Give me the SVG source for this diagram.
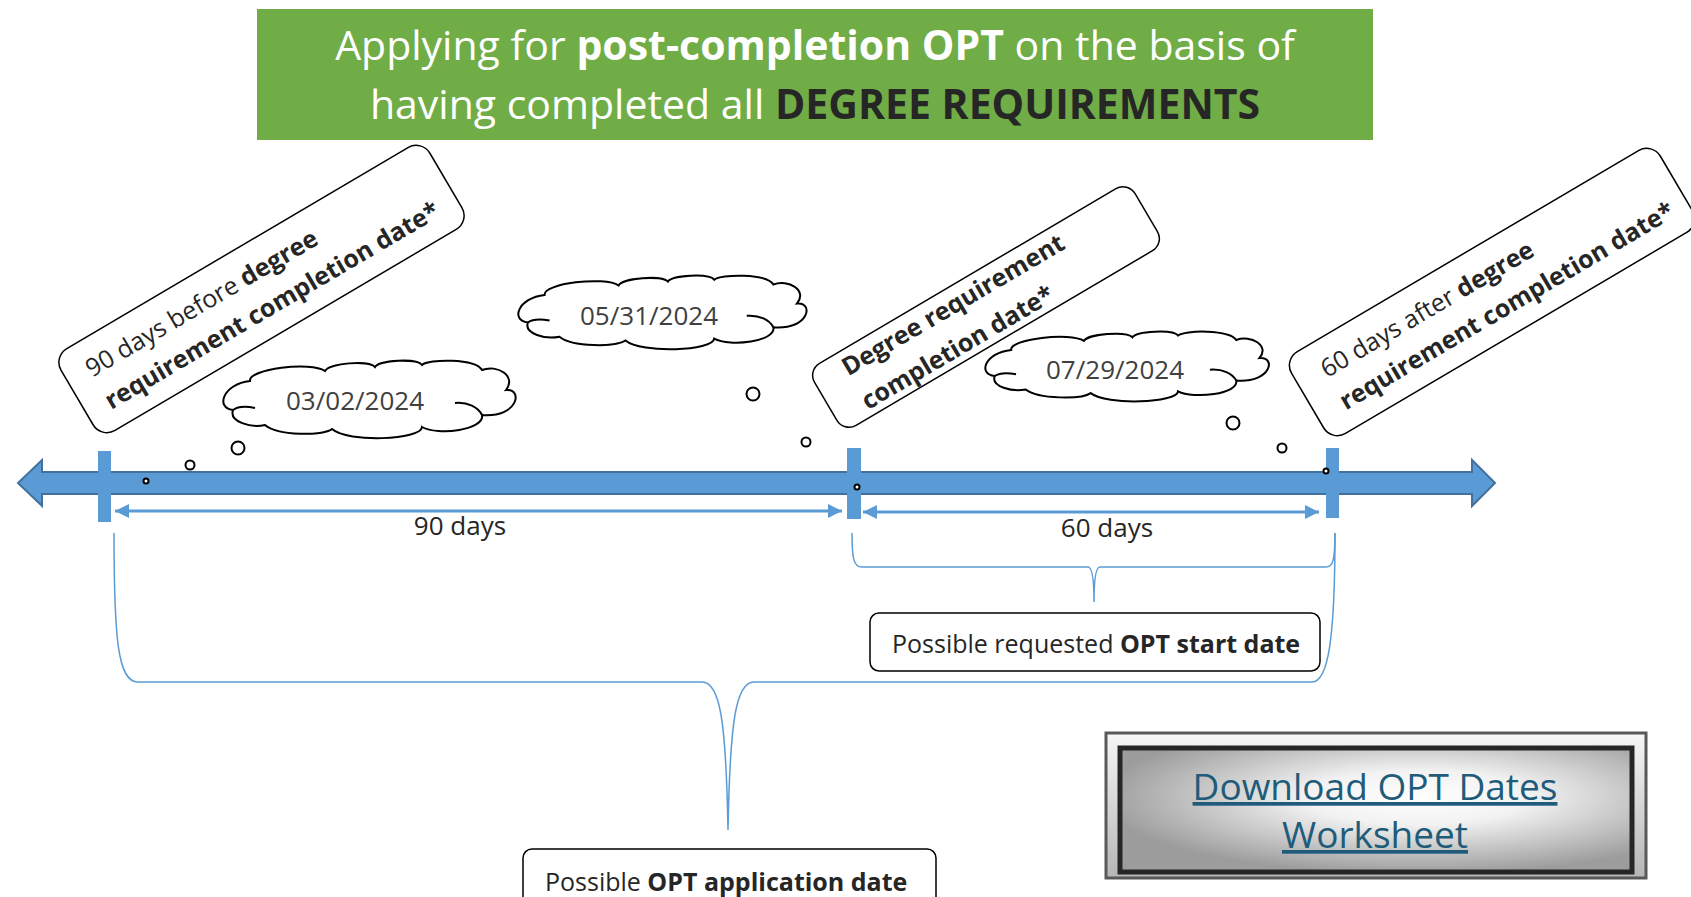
<svg xmlns="http://www.w3.org/2000/svg" width="1691" height="897" viewBox="0 0 1691 897">
<style>
text{font-family:'Open Sans','Liberation Sans',sans-serif;}
.b{font-weight:bold;}
.title{fill:#FFFFFF;font-size:41px;}
.dark{fill:#262626;}
.callout{fill:#FFFFFF;stroke:#000000;stroke-width:1.5;}
.ct{font-size:25px;fill:#262626;}
.cloud{fill:#FFFFFF;stroke:#000000;stroke-width:2;vector-effect:non-scaling-stroke;}
.cloudin{fill:none;stroke:#000000;stroke-width:2;vector-effect:non-scaling-stroke;}
.date{font-size:26px;fill:#404040;text-anchor:middle;}
.bub{fill:#FFFFFF;stroke:#000000;stroke-width:2;}
.tick{fill:#5B9BD5;}
.dim{stroke:#5B9BD5;stroke-width:3;fill:none;}
.days{font-size:26px;fill:#262626;text-anchor:middle;}
.brace{fill:none;stroke:#5B9BD5;stroke-width:1.5;}
.lbl{fill:#FFFFFF;stroke:#000000;stroke-width:1.5;}
.lt{font-size:25px;fill:#262626;}
.link{font-size:37px;fill:#1F5C7A;text-anchor:middle;text-decoration:underline;}
</style>
<defs>
<marker id="ah" viewBox="0 0 14 14" refX="14" refY="7" markerWidth="14" markerHeight="14" markerUnits="userSpaceOnUse" orient="auto-start-reverse">
<path d="M0,0 L14,7 L0,14 Z" fill="#5B9BD5"/>
</marker>
<g id="cloudshape">
<path class="cloud" d="M27,21 C25,9 88,1 102,11 C106,3 146,0 152,7 C156,0 194,-2 199,5 C205,-1 252,-2 259,10 C274,4 294,16 283,30 C300,28 296,58 259,55 C262,70 215,76 199,67 C198,80 125,83 109,69 C100,76 55,76 42,65 C28,68 6,62 10,50 C-8,48 0,24 27,21 Z"/>
<path class="cloudin" d="M32,48 C22,46 14,47 10,50"/>
<path class="cloudin" d="M232,43 C245,42 255,47 259,55"/>
</g>
<linearGradient id="bevel" x1="0" y1="0" x2="0" y2="1">
<stop offset="0" stop-color="#F7F7F7"/>
<stop offset="1" stop-color="#B5B5B5"/>
</linearGradient>
<radialGradient id="shine" cx="0.58" cy="0.4" r="0.62">
<stop offset="0" stop-color="#FFFFFF"/>
<stop offset="0.35" stop-color="#F2F2F2"/>
<stop offset="1" stop-color="#9C9C9C"/>
</radialGradient>
</defs>

<g id="title">
<rect x="257" y="9" width="1116" height="131" fill="#70AD47"/>
<text class="title" x="815" y="60" text-anchor="middle">Applying for <tspan class="b">post-completion OPT</tspan> on the basis of</text>
<text class="title" x="815" y="119" text-anchor="middle">having completed all <tspan class="b dark">DEGREE REQUIREMENTS</tspan></text>
</g>

<g id="timeline">
<path d="M18,483 L42,460 L42,472 L1472,472 L1472,460 L1495,483 L1472,506 L1472,494 L42,494 L42,506 Z" fill="#5B9BD5" stroke="#41719C" stroke-width="2" stroke-linejoin="miter"/>
<rect class="tick" x="98" y="451" width="13" height="71"/>
<rect class="tick" x="847" y="448" width="14" height="71"/>
<rect class="tick" x="1326" y="448" width="13" height="70"/>
</g>

<g id="connectors">
<line class="dim" x1="115" y1="511" x2="842" y2="511" marker-start="url(#ah)" marker-end="url(#ah)"/>
<line class="dim" x1="863" y1="512" x2="1319" y2="512" marker-start="url(#ah)" marker-end="url(#ah)"/>
<path class="brace" d="M852,533 C852,560 854,567 862,567 L1088,567 C1092,567 1094,578 1094,602 C1094,578 1096,567 1100,567 L1326,567 C1333,567 1335,560 1335,533"/>
<path class="brace" d="M114,533 C114,640 118,682 138,682 L702,682 C720,682 726,720 728,830 C730,720 736,682 754,682 L1312,682 C1328,682 1335,640 1335,533"/>
</g>

<g id="days-90"><text class="days" x="460" y="535">90 days</text></g>
<g id="days-60"><text class="days" x="1107" y="537">60 days</text></g>

<g id="callout-90-before" transform="translate(261.5,289) rotate(-30.5)">
<rect class="callout" x="-214" y="-47.5" width="428" height="95" rx="16"/>
<text class="ct" x="-191" y="-9.5">90 days before <tspan class="b">degree</tspan></text>
<text class="ct b" x="-191" y="28">requirement completion date*</text>
</g>

<g id="callout-completion" transform="translate(986,307) rotate(-30.5)">
<rect class="callout" x="-186" y="-36" width="372" height="72" rx="14"/>
<text class="ct b" x="-154" y="-10">Degree requirement</text>
<text class="ct b" x="-154" y="29">completion date*</text>
</g>

<g id="callout-60-after" transform="translate(1492,292) rotate(-30.5)">
<rect class="callout" x="-214" y="-47.5" width="428" height="95" rx="16"/>
<text class="ct" x="-186" y="-9.5">60 days after <tspan class="b">degree</tspan></text>
<text class="ct b" x="-186" y="28">requirement completion date*</text>
</g>

<g id="cloud-1">
<use href="#cloudshape" transform="translate(223,360)"/>
<text class="date" x="355" y="410">03/02/2024</text>
<circle class="bub" cx="238" cy="448" r="6.5"/>
<circle class="bub" cx="190" cy="465" r="4.5"/>
<circle class="bub" cx="146" cy="481" r="2.5"/>
</g>

<g id="cloud-2">
<use href="#cloudshape" transform="translate(518,275) scale(0.986,0.95)"/>
<text class="date" x="649" y="325">05/31/2024</text>
<circle class="bub" cx="753" cy="394" r="6.5"/>
<circle class="bub" cx="806" cy="442" r="4.5"/>
<circle class="bub" cx="857" cy="487" r="2.5"/>
</g>

<g id="cloud-3">
<use href="#cloudshape" transform="translate(985,331) scale(0.97,0.9)"/>
<text class="date" x="1115" y="379">07/29/2024</text>
<circle class="bub" cx="1233" cy="423" r="6.5"/>
<circle class="bub" cx="1282" cy="448" r="4.5"/>
<circle class="bub" cx="1326" cy="471" r="2.5"/>
</g>

<g id="label-start">
<rect class="lbl" x="870" y="613" width="450" height="58" rx="9"/>
<text class="lt" x="892" y="653">Possible requested <tspan class="b">OPT start date</tspan></text>
</g>

<g id="label-application">
<rect class="lbl" x="523" y="849" width="413" height="62" rx="9"/>
<text class="lt" x="545" y="891">Possible <tspan class="b">OPT application date</tspan></text>
</g>

<g id="download-button">
<rect x="1106" y="733" width="540" height="145" fill="url(#bevel)" stroke="#595959" stroke-width="3"/>
<rect x="1120" y="748" width="512" height="124" fill="url(#shine)" stroke="#262626" stroke-width="5"/>
<text class="link" x="1375" y="800">Download OPT Dates</text>
<text class="link" x="1375" y="848">Worksheet</text>
</g>
</svg>
